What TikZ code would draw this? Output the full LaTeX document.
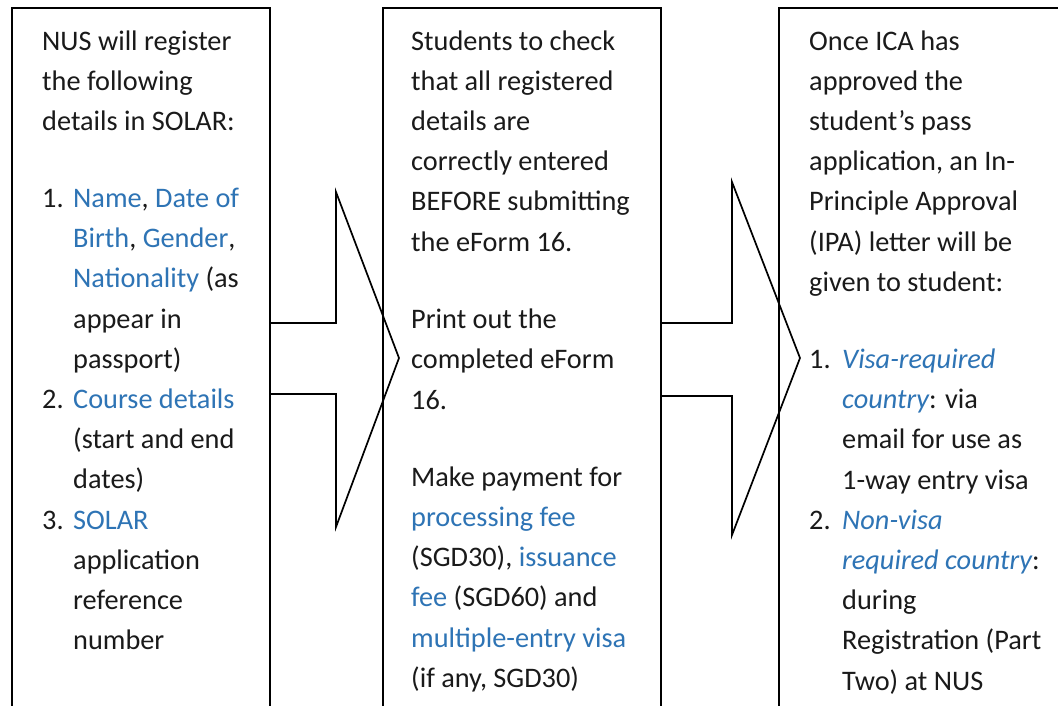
\documentclass[tikz,border=0pt]{standalone}
\usepackage{fontspec}
\setmainfont{Carlito}
\definecolor{linkblue}{HTML}{2E74B5}
\definecolor{txtgray}{HTML}{1A1A1A}
\newcommand{\lk}[1]{\textcolor{linkblue}{#1}}
\newcommand{\lkit}[1]{\textcolor{linkblue}{\itshape #1}}
\newcommand{\numL}[1]{\makebox[31pt][l]{#1}}
\newcommand{\numR}[1]{\makebox[33pt][l]{#1}}
\begin{document}
\begin{tikzpicture}[x=1pt,y=-1pt,
  boxline/.style={draw=black, line width=1.8pt, line join=miter},
  thickbox/.style={draw=black, line width=2.8pt},
  blockarrow/.style={draw=black, line width=1.7pt, line join=miter},
  txtblock/.style={anchor=base west, inner sep=0pt, text=txtgray,
    font=\fontsize{28.3}{40.2}\selectfont}]
\useasboundingbox (0,0) rectangle (1058,705);
\clip (0,0) rectangle (1058,705);
\fill[white] (0,0) rectangle (1058,705);

% panels
\draw[boxline] (12,720) -- (12,8) -- (270,8) -- (270,720);
\draw[boxline] (383,720) -- (383,8) -- (661,8) -- (661,720);
\draw[thickbox] (779,720) -- (779,8) -- (1070,8);

% block arrows
\draw[blockarrow] (270,323) -- (336,323) -- (336,192) -- (399,358)
  -- (336,527) -- (336,394) -- (270,394);
\draw[blockarrow] (661,323) -- (732,323) -- (732,182) -- (800,358)
  -- (732,535) -- (732,396) -- (661,396);

% texts
\node[txtblock] (left) at (42,50) {\parbox[t]{225pt}{%
NUS will register\\
the following\\
details in SOLAR:\\[36.8pt]
\numL{1.}\lk{Name}, \lk{Date of}\\
\hspace*{31pt}\lk{Birth}, \lk{Gender},\\
\hspace*{31pt}\lk{Nationality} (as\\
\hspace*{31pt}appear in\\
\hspace*{31pt}passport)\\
\numL{2.}\lk{Course details}\\
\hspace*{31pt}(start and end\\
\hspace*{31pt}dates)\\
\numL{3.}\lk{SOLAR}\\
\hspace*{31pt}application\\
\hspace*{31pt}reference\\
\hspace*{31pt}number}};

\node[txtblock] (middle) at (411,50) {\parbox[t]{245pt}{%
Students to check\\
that all registered\\
details are\\
correctly entered\\
BEFORE submitting\\
the eForm 16.\\[37.5pt]
Print out the\\
completed eForm\\
16.\\[37pt]
Make payment for\\
\lk{processing fee}\\
(SGD30), \lk{issuance}\\
\lk{fee} (SGD60) and\\
\lk{multiple-entry visa}\\
(if any, SGD30)}};

\node[txtblock] (right) at (809,50) {\parbox[t]{245pt}{%
Once ICA has\\
approved the\\
student’s pass\\
application, an In-\\
Principle Approval\\
(IPA) letter will be\\
given to student:\\[37pt]
\numR{1.}\lkit{Visa-required}\\
\hspace*{33pt}\lkit{country}: via\\
\hspace*{33pt}email for use as\\
\hspace*{33pt}1-way entry visa\\
\numR{2.}\lkit{Non-visa}\\
\hspace*{33pt}\lkit{required country}:\\
\hspace*{33pt}during\\
\hspace*{33pt}Registration (Part\\
\hspace*{33pt}Two) at NUS}};
\end{tikzpicture}
\end{document}
